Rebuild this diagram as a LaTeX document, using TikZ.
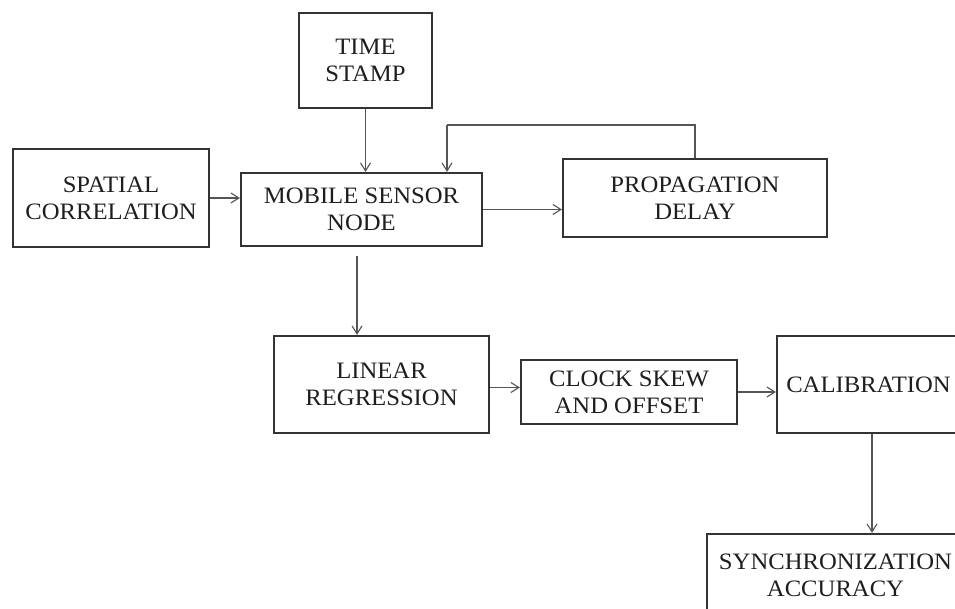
\documentclass[tikz,border=0pt]{standalone}
\usepackage{fontspec}
\setmainfont{Liberation Serif}[FakeStretch=1.05]
\usetikzlibrary{arrows.meta}
\definecolor{boxline}{HTML}{333333}
\definecolor{wire}{HTML}{555555}
\definecolor{ink}{HTML}{1E1E1E}
\tikzset{
  blockbox/.style={draw=boxline, line width=2.2pt, fill=white, align=center,
    text=ink, inner sep=0pt,
    font=\fontsize{23.5}{27}\selectfont},
  arr/.style={draw=wire, line width=1.1pt,
    -{Straight Barb[length=8pt,width=10pt,line width=1.1pt]}},
  wireline/.style={draw=wire, line width=1.1pt}
}
\begin{document}
\begin{tikzpicture}[x=1pt,y=-1pt]
  \useasboundingbox (0,0) rectangle (955,609);
  \clip (0,0) rectangle (955,609);
  \fill[white] (0,0) rectangle (955,609);

  % blocks
  \node[blockbox, minimum width=133pt, minimum height=95pt] (ts)  at (365.5,60.5) {TIME\\STAMP};
  \node[blockbox, minimum width=196pt, minimum height=98pt] (sc)  at (111,198)   {SPATIAL\\CORRELATION};
  \node[blockbox, minimum width=241pt, minimum height=73pt] (msn) at (361.5,209.5) {MOBILE SENSOR\\NODE};
  \node[blockbox, minimum width=264pt, minimum height=78pt] (pd)  at (695,198)   {PROPAGATION\\DELAY};
  \node[blockbox, minimum width=215pt, minimum height=97pt] (lr)  at (381.5,384.5) {LINEAR\\REGRESSION};
  \node[blockbox, minimum width=216pt, minimum height=64pt] (cso) at (629,392)   {CLOCK SKEW\\AND OFFSET};
  \node[blockbox, minimum width=183pt, minimum height=97pt] (cal) at (868.5,384.5) {CALIBRATION};
  \node[blockbox, minimum width=257pt, minimum height=83pt] (sa)  at (835.5,575.5) {SYNCHRONIZATION\\ACCURACY};

  % connectors
  \draw[arr] (ts.south) -- (ts.south |- msn.north);
  \draw[arr] (sc.east) -- (sc.east -| msn.west);
  \draw[arr] (msn.east) -- (msn.east -| pd.west);
  \coordinate (fb) at (447,125);
  \draw[wireline] (pd.north) |- (fb);
  \draw[arr] (fb) -- (fb |- msn.north);
  \coordinate (m1) at ([xshift=-4.5pt,yshift=-9pt]msn.south);
  \draw[arr] (m1) -- (m1 |- lr.north);
  \draw[arr] ([yshift=-3pt]lr.east) -- ([yshift=-3pt]lr.east -| cso.west);
  \draw[arr] (cso.east) -- (cso.east -| cal.west);
  \draw[arr] ([xshift=3.5pt]cal.south) -- ([xshift=3.5pt]cal.south |- sa.north);
\end{tikzpicture}
\end{document}
